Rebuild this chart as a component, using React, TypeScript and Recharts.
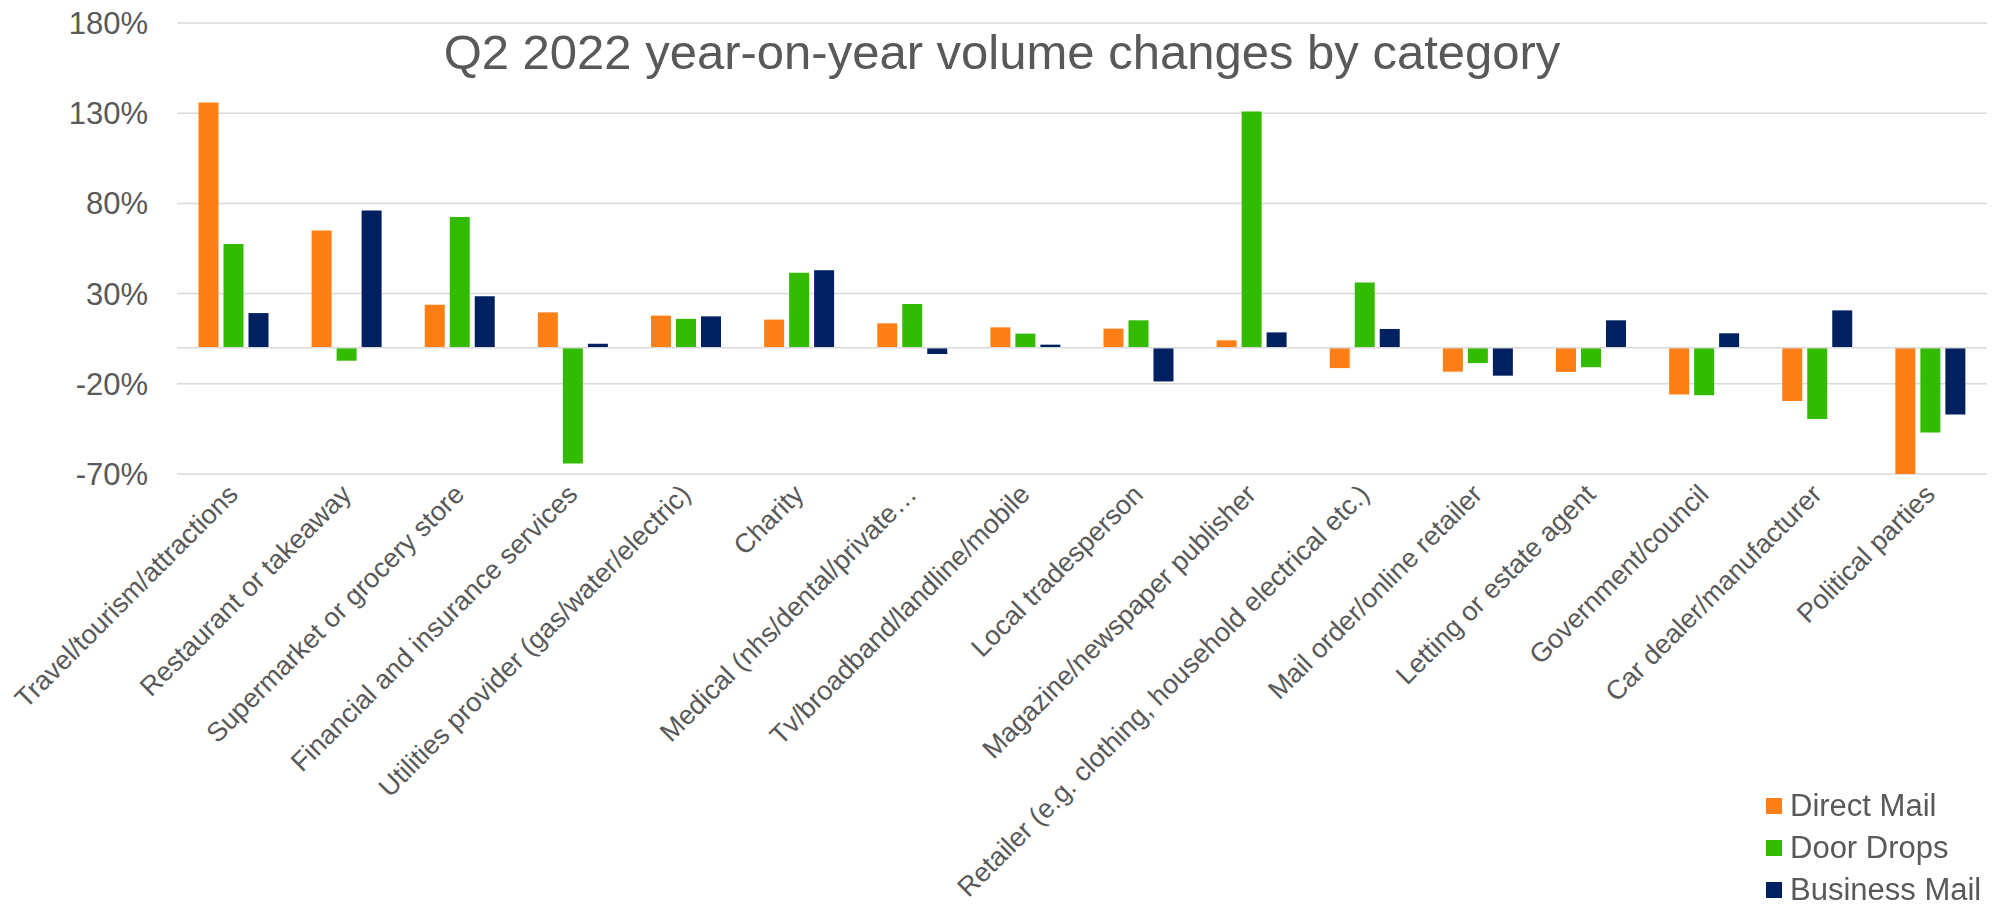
import React from 'react';
import { Bar, BarChart, CartesianGrid, ReferenceLine, XAxis, YAxis } from 'recharts';

const categories = [
    'Travel/tourism/attractions',
    'Restaurant or takeaway',
    'Supermarket or grocery store',
    'Financial and insurance services',
    'Utilities provider (gas/water/electric)',
    'Charity',
    'Medical (nhs/dental/private\u2026',
    'Tv/broadband/landline/mobile',
    'Local tradesperson',
    'Magazine/newspaper publisher',
    'Retailer (e.g. clothing, household electrical etc.)',
    'Mail order/online retailer',
    'Letting or estate agent',
    'Government/council',
    'Car dealer/manufacturer',
    'Political parties',
];

const directMail = [136, 65, 23.8, 19.6, 17.8, 15.6, 13.5, 11.3, 10.6, 4.1, -11.3, -13.3, -13.4, -25.9, -29.5, -70];
const doorDrops = [57.5, -7.2, 72.5, -64.2, 16, 41.5, 24.3, 7.8, 15.2, 131, 36.1, -8.5, -10.8, -26.3, -39.5, -47];
const businessMail = [19.2, 76, 28.5, 2.2, 17.4, 43, -3.5, 1.7, -18.7, 8.5, 10.4, -15.5, 15.2, 8, 20.7, -37];

const yTicks = [-70, -20, 30, 80, 130, 180];

const series = [
    { key: 'directMail', name: 'Direct Mail', color: '#FD7F16' },
    { key: 'doorDrops', name: 'Door Drops', color: '#33BB00' },
    { key: 'businessMail', name: 'Business Mail', color: '#002060' },
];

const data = categories.map((category, i) => ({
    category,
    directMail: directMail[i],
    doorDrops: doorDrops[i],
    businessMail: businessMail[i],
}));

const FONT = '"Liberation Sans", Arial, sans-serif';
const TEXT = '#595959';
const GRID = '#D9D9D9';

const CategoryTick = (props: any) => {
    const { x, y, payload } = props;
    const tx = x + 6;
    const ty = y + 22;
    return (
        <text
            x={tx}
            y={ty}
            transform={`rotate(-45, ${tx}, ${ty})`}
            textAnchor="end"
            fill={TEXT}
            fontSize={27}
            fontFamily={FONT}
        >
            {payload.value}
        </text>
    );
};

export default function App() {
    return (
        <div style={{ position: 'fixed', left: 0, top: 0, width: 2004, height: 905, background: '#fff' }}>
            <div
                style={{
                    position: 'absolute',
                    left: 0,
                    top: 28,
                    width: 2004,
                    textAlign: 'center',
                    fontFamily: FONT,
                    fontSize: 49,
                    lineHeight: '49px',
                    color: TEXT,
                    zIndex: 1,
                    pointerEvents: 'none',
                }}
            >
                Q2 2022 year-on-year volume changes by category
            </div>
            <BarChart
                width={2004}
                height={905}
                data={data}
                margin={{ top: 23, right: 17, left: 0, bottom: 0 }}
                barCategoryGap="19%"
                barGap={5}
            >
                <CartesianGrid vertical={false} stroke={GRID} strokeWidth={1.5} />
                <XAxis
                    dataKey="category"
                    interval={0}
                    axisLine={false}
                    tickLine={false}
                    tickSize={0}
                    tickMargin={0}
                    height={431}
                    tick={<CategoryTick />}
                />
                <YAxis
                    width={177}
                    domain={[-70, 180]}
                    ticks={yTicks}
                    allowDataOverflow
                    axisLine={false}
                    tickLine={false}
                    tickSize={0}
                    tickMargin={29}
                    tickFormatter={(v: number) => `${v}%`}
                    tick={{ fill: TEXT, fontSize: 31, fontFamily: FONT }}
                />
                <ReferenceLine y={0} stroke={GRID} strokeWidth={1.5} />
                {series.map((s) => (
                    <Bar key={s.key} dataKey={s.key} name={s.name} fill={s.color} isAnimationActive={false} />
                ))}
            </BarChart>
            <div
                style={{
                    position: 'absolute',
                    left: 1766,
                    top: 785,
                    fontFamily: FONT,
                    fontSize: 31,
                    color: TEXT,
                }}
            >
                {series.map((s) => (
                    <div key={s.key} style={{ display: 'flex', alignItems: 'center', height: 42 }}>
                        <span style={{ width: 16, height: 16, background: s.color, marginRight: 8 }} />
                        <span style={{ lineHeight: '42px', whiteSpace: 'nowrap' }}>{s.name}</span>
                    </div>
                ))}
            </div>
        </div>
    );
}
